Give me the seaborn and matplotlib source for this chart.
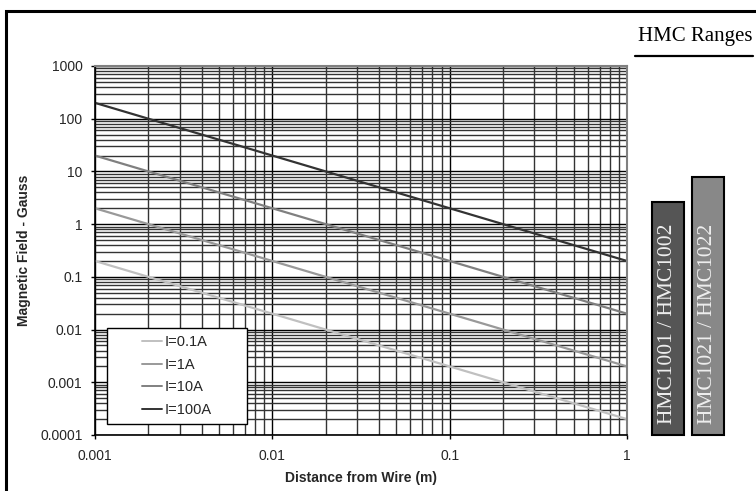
import numpy as np
import pandas as pd
import matplotlib
matplotlib.use("Agg")
import matplotlib.pyplot as plt
import matplotlib.transforms as mtransforms
from matplotlib.lines import Line2D
from matplotlib.patches import Rectangle
from matplotlib.ticker import LogLocator, NullFormatter
import seaborn as sns

# ---------------- data ----------------
distance_m = [0.001, 0.01, 0.1, 1]
field_0p1A = [0.2, 0.02, 0.002, 0.0002]
field_1A = [2, 0.2, 0.02, 0.002]
field_10A = [20, 2, 0.2, 0.02]
field_100A = [200, 20, 2, 0.2]
series_names = ["I=0.1A", "I=1A", "I=10A", "I=100A"]

x_tick_values = [0.001, 0.01, 0.1, 1]
x_tick_labels = ["0.001", "0.01", "0.1", "1"]
y_tick_values = [0.0001, 0.001, 0.01, 0.1, 1, 10, 100, 1000]
y_tick_labels = ["0.0001", "0.001", "0.01", "0.1", "1", "10", "100", "1000"]

range_labels = ["HMC1001 / HMC1002", "HMC1021 / HMC1022"]
range_min_gauss = [0.0001, 0.0001]
range_max_gauss = [2.6, 7.9]

# ---------------- style ----------------
sns.set_style("white")
plt.rcParams["font.family"] = ["Liberation Sans", "DejaVu Sans"]

W, H = 756, 491
fig = plt.figure(figsize=(W / 100, H / 100), dpi=100)
fig.patch.set_facecolor("white")

ax_l, ax_r, ax_t, ax_b = 95, 627, 66, 435
ax = fig.add_axes([ax_l / W, 1 - ax_b / H, (ax_r - ax_l) / W, (ax_b - ax_t) / H])

df = pd.DataFrame({
    "distance": distance_m * 4,
    "field": field_0p1A + field_1A + field_10A + field_100A,
    "series": sum([[n] * len(distance_m) for n in series_names], []),
})
palette = {"I=0.1A": "#c0c0c0", "I=1A": "#999999", "I=10A": "#808080", "I=100A": "#333333"}

sns.lineplot(data=df, x="distance", y="field", hue="series", hue_order=series_names,
             palette=palette, linewidth=1.6, ax=ax, legend=True)

ax.set_xscale("log")
ax.set_yscale("log")
ax.set_xlim(0.001, 1)
ax.set_ylim(0.0001, 1000)

ax.set_xticks(x_tick_values, x_tick_labels)
ax.set_yticks(y_tick_values, y_tick_labels)
ax.xaxis.set_minor_locator(LogLocator(base=10, subs=np.arange(2, 10), numticks=20))
ax.yaxis.set_minor_locator(LogLocator(base=10, subs=np.arange(2, 10), numticks=20))
ax.xaxis.set_minor_formatter(NullFormatter())
ax.yaxis.set_minor_formatter(NullFormatter())

ax.set_axisbelow(True)
ax.grid(which="major", color="black", linewidth=1.0)
ax.grid(which="minor", color="#333333", linewidth=1.0)

ax.tick_params(which="major", direction="out", length=3, width=1, color="black",
               labelsize=10, bottom=True, left=True)
ax.tick_params(axis="y", which="major", pad=6)
ax.tick_params(axis="x", which="major", pad=7)
ax.tick_params(which="minor", length=0)

for s in ["left", "bottom"]:
    ax.spines[s].set_color("black")
    ax.spines[s].set_linewidth(1.2)
for s in ["top", "right"]:
    ax.spines[s].set_color("#808080")
    ax.spines[s].set_linewidth(1.5)

ax.set_xlabel("Distance from Wire (m)", fontsize=10, fontweight="bold")
ax.set_ylabel("Magnetic Field - Gauss", fontsize=10, fontweight="bold")
ax.xaxis.set_label_coords(0.5, -0.097)
ax.yaxis.set_label_coords(-0.12, 0.5)

# legend: centred entries inside a separately drawn box
handles, labels = ax.get_legend_handles_labels()
box_x0, box_x1 = (107 - ax_l) / (ax_r - ax_l), (247 - ax_l) / (ax_r - ax_l)
box_y0, box_y1 = (ax_b - 424) / (ax_b - ax_t), (ax_b - 328) / (ax_b - ax_t)
ax.add_patch(Rectangle((box_x0, box_y0), box_x1 - box_x0, box_y1 - box_y0,
                       transform=ax.transAxes, facecolor="white", edgecolor="black",
                       linewidth=1.0, zorder=4))
leg = ax.legend(handles, labels, loc="center",
                bbox_to_anchor=((box_x0 + box_x1) / 2, (box_y0 + box_y1) / 2),
                frameon=False, fontsize=10.5, handlelength=1.35, handletextpad=0.2,
                labelspacing=0.6, borderpad=0.2)
leg.set_zorder(5)
for line in leg.get_lines():
    line.set_linewidth(1.4)

# ---------------- HMC range bars ----------------
ax2 = fig.add_axes([640 / W, 1 - ax_b / H, 100 / W, (ax_b - ax_t) / H])
ax2.set_yscale("log")
ax2.set_ylim(0.0001, 1000)
ax2.set_xlim(-0.7, 1.8)
ax2.axis("off")
bar_colors = ["#555555", "#888888"]
xs = np.arange(len(range_labels))
ax2.bar(xs, np.subtract(range_max_gauss, range_min_gauss), bottom=range_min_gauss,
        width=0.78, color=bar_colors, edgecolor="black", linewidth=1.5, clip_on=False)
blend = mtransforms.blended_transform_factory(ax2.transData, ax2.transAxes)
for x, lab in zip(xs, range_labels):
    ax2.text(x, 0.03, lab, transform=blend, rotation=90, ha="center", va="bottom",
             color="#eeeeee", fontsize=15.5, family=["Liberation Serif", "DejaVu Serif"])

fig.text(695 / W, 1 - 37 / H, "HMC Ranges", ha="center", va="center", fontsize=15,
         family=["Liberation Serif", "DejaVu Serif"], color="black")
fig.add_artist(Line2D([635 / W, 753 / W], [1 - 56 / H, 1 - 56 / H], color="black",
                      linewidth=1.6, transform=fig.transFigure))

# outer frame (runs off the right and bottom edges)
fig.add_artist(Rectangle((6 / W, -0.5), 2.0, 1.5 - 11 / H, transform=fig.transFigure,
                         fill=False, edgecolor="black", linewidth=2.2))

fig.savefig("out.png", dpi=100, facecolor="white")
